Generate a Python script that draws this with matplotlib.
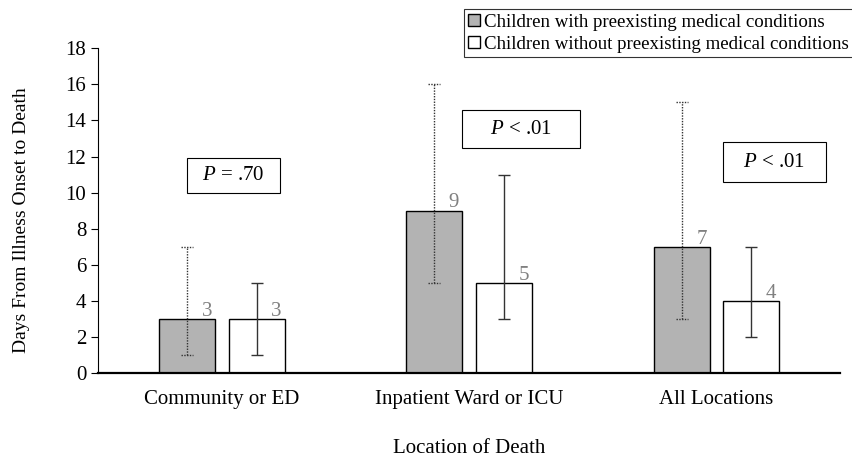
import numpy as np
import matplotlib.pyplot as plt
from matplotlib.patches import Rectangle

plt.rcParams['font.family'] = ['Liberation Serif', 'DejaVu Serif']
plt.rcParams['mathtext.fontset'] = 'custom'
plt.rcParams['mathtext.it'] = 'Liberation Serif:italic'
plt.rcParams['mathtext.rm'] = 'Liberation Serif'

# data
categories = ["Community or ED", "Inpatient Ward or ICU", "All Locations"]
with_cond = [3, 9, 7]
with_lo = [1, 5, 3]
with_hi = [7, 16, 15]
without_cond = [3, 5, 4]
without_lo = [1, 3, 2]
without_hi = [5, 11, 7]
p_labels = ["$P$ = .70", "$P$ < .01", "$P$ < .01"]
legend_labels = ["Children with preexisting medical conditions",
                 "Children without preexisting medical conditions"]

fig = plt.figure(figsize=(8.53, 4.58), dpi=100)
ax = fig.add_axes([0.115, 0.1856, 0.87, 0.709])

x = np.arange(len(categories))
w = 0.226
off = 0.141
cap = 0.024

b1 = ax.bar(x - off, with_cond, w, color='#b3b3b3', edgecolor='black', linewidth=1.0,
            label=legend_labels[0], zorder=2)
b2 = ax.bar(x + off, without_cond, w, color='white', edgecolor='black', linewidth=1.0,
            label=legend_labels[1], zorder=2)

# error bars: dotted for preexisting, solid for without
dot = (0, (1, 1))
ax.vlines(x - off, with_lo, with_hi, colors='#333333', linestyles=[dot], linewidth=1.0, zorder=3)
ax.hlines(with_lo, x - off - cap, x - off + cap, colors='#333333', linestyles=[dot], linewidth=1.0, zorder=3)
ax.hlines(with_hi, x - off - cap, x - off + cap, colors='#333333', linestyles=[dot], linewidth=1.0, zorder=3)
ax.vlines(x + off, without_lo, without_hi, colors='#333333', linewidth=1.0, zorder=3)
ax.hlines(without_lo, x + off - cap, x + off + cap, colors='#333333', linewidth=1.0, zorder=3)
ax.hlines(without_hi, x + off - cap, x + off + cap, colors='#333333', linewidth=1.0, zorder=3)

# value labels
for i in range(len(categories)):
    ax.text(x[i] - off + 0.08, with_cond[i] - 0.1, str(with_cond[i]), color='#808080',
            fontsize=15, ha='center', va='bottom')
    ax.text(x[i] + off + 0.08, without_cond[i] - 0.1, str(without_cond[i]), color='#808080',
            fontsize=15, ha='center', va='bottom')

# P value boxes (x0, x1, y0, y1 in data units)
p_boxes = [(-0.140, 0.235, 9.97, 11.90),
           (0.971, 1.448, 12.46, 14.56),
           (2.025, 2.442, 10.58, 12.79)]
for lab, (x0, x1, y0, y1) in zip(p_labels, p_boxes):
    ax.add_patch(Rectangle((x0, y0), x1 - x0, y1 - y0, facecolor='white',
                           edgecolor='black', linewidth=0.8, zorder=4))
    ax.text((x0 + x1) / 2, (y0 + y1) / 2, lab, fontsize=15, ha='center', va='center', zorder=5)

ax.set_xlim(-0.5, 2.5)
ax.set_ylim(0, 18)
ax.set_yticks(np.arange(0, 19, 2))
ax.set_xticks(x)
ax.set_xticklabels(categories, fontsize=15)
ax.tick_params(axis='x', length=0, pad=12)
ax.tick_params(axis='y', labelsize=15, length=5, width=0.8, direction='out')
ax.spines['top'].set_visible(False)
ax.spines['right'].set_visible(False)
ax.spines['bottom'].set_linewidth(1.6)
ax.spines['left'].set_linewidth(0.8)

ax.set_ylabel("Days From Illness Onset to Death", fontsize=14)
ax.yaxis.set_label_coords(-0.092, 0.47)
ax.set_xlabel("Location of Death", fontsize=15, labelpad=22)

leg = fig.legend(handles=[b1, b2], loc='upper right', bbox_to_anchor=(1.0, 0.98),
                 fontsize=13.6, frameon=True, fancybox=False, edgecolor='black',
                 handlelength=0.6, handleheight=0.6, handletextpad=0.2,
                 borderpad=0.25, labelspacing=0.25, borderaxespad=0.0)
leg.get_frame().set_linewidth(0.8)

fig.savefig("out.png", dpi=100)
